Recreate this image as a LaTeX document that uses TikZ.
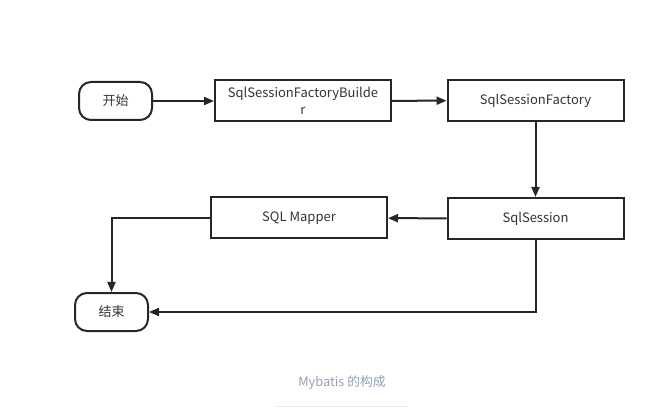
\documentclass[tikz,border=0pt]{standalone}
\usepackage{fontspec}
\setmainfont{Noto Sans CJK SC}
\usetikzlibrary{arrows.meta}
\usetikzlibrary{positioning}

\definecolor{captiongray}{RGB}{148,160,178}

\begin{document}
\begin{tikzpicture}[x=1pt, y=-1pt,
    every node/.style={draw=black!85, line width=2pt, font=\fontsize{13}{17}\selectfont, text=black!80, inner sep=0pt},
    term/.style={rounded corners=12pt, minimum width=73pt, minimum height=38pt},
    proc/.style={minimum width=176pt, minimum height=41pt, align=center},
    flow/.style={draw=black!85, line width=2pt, -{Triangle[length=10pt, width=8pt]}}]
    \useasboundingbox (0,0) rectangle (663,411);

    \node[term] (start) at (115.5,101) {开始};
    \node[proc] (builder) at (303,101) {SqlSessionFactoryBuilde\\r};
    \node[proc] (factory) at (535.5,100.5) {SqlSessionFactory};
    \node[proc] (session) at (535.5,218.5) {SqlSession};
    \node[proc] (mapper) at (299,218) {SQL Mapper};
    \node[term] (end) at (111.5,312) {结束};

    \draw[flow] (start) -- (builder);
    \draw[flow] (builder) -- (factory);
    \draw[flow] (factory) -- (session);
    \draw[flow] (session) -- (mapper);
    \draw[flow] (mapper.west) -| (end.north);
    \draw[flow] (session.south) |- (end.east);

    % caption
    \node[draw=none, text=captiongray, font=\fontsize{12.8}{15}\selectfont] (caption) at (342,383) {Mybatis 的构成};
    \draw[black!8, line width=1pt] (275,406) -- (408,406);
\end{tikzpicture}
\end{document}
